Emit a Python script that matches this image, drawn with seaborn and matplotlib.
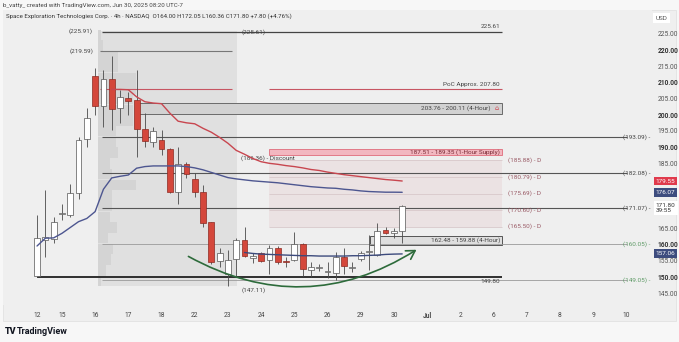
import numpy as np
import pandas as pd
import seaborn as sns
import matplotlib.pyplot as plt
from matplotlib.patches import Rectangle

# 4h candles (index 0 = first bar of Jun 12)
opens = [150.2, 161.5, 161.6, 169.3, 169.0, 175.9, 192.4, 212.0, 202.7, 210.9,
         202.0, 205.2, 204.5, 195.5, 191.7, 192.2, 189.3, 176.2, 184.8, 180.1,
         176.2, 166.8, 154.8, 151.0, 155.4, 161.3, 155.8, 157.2, 155.2, 158.8,
         154.9, 155.2, 160.1, 152.0, 152.8, 151.4, 151.2, 156.2, 152.8, 155.5,
         157.8, 156.7, 164.4, 163.6, 164.0]
highs = [169.0, 176.8, 168.5, 172.4, 178.6, 193.0, 202.0, 214.3, 213.8, 218.1,
         207.6, 207.0, 213.8, 200.4, 196.3, 195.3, 189.8, 190.0, 185.5, 182.1,
         178.3, 166.9, 158.8, 158.2, 161.9, 165.4, 157.4, 157.8, 159.8, 159.5,
         156.0, 163.9, 160.5, 154.6, 154.0, 154.5, 157.7, 158.8, 154.5, 158.1,
         163.0, 166.5, 165.4, 165.0, 172.05]
lows = [150.0, 156.0, 160.4, 167.5, 168.5, 173.9, 190.0, 200.0, 196.3, 195.3,
        197.4, 199.9, 187.0, 190.0, 190.0, 187.6, 175.7, 172.4, 180.4, 174.5,
        165.4, 153.9, 153.1, 147.11, 150.0, 156.0, 154.3, 154.5, 151.0, 154.0,
        153.0, 155.0, 150.2, 150.0, 151.8, 149.7, 149.0, 151.0, 151.5, 155.0,
        152.0, 156.5, 163.3, 162.0, 160.36]
closes = [161.9, 162.3, 167.0, 169.6, 175.9, 192.2, 199.1, 202.7, 210.9, 201.7,
          205.6, 204.3, 195.5, 191.9, 195.0, 189.3, 176.2, 184.8, 181.7, 176.2,
          166.7, 154.6, 157.2, 155.2, 161.3, 156.4, 156.5, 155.0, 158.8, 154.6,
          154.7, 160.1, 152.3, 152.9, 153.0, 151.6, 156.0, 153.3, 153.0, 157.2,
          158.1, 164.1, 163.6, 164.0, 171.8]

day_ticks = [0, 3, 7, 11, 15, 19, 23, 27, 31, 35, 39, 43, 47, 51, 55, 59, 63, 67, 71]
day_labels = ['12', '15', '16', '17', '18', '22', '23', '24', '25', '26', '29', '30',
              'Jul', '2', '6', '7', '8', '9', '10']

# moving/anchored lines
red_start = 9
red_line = [207.8, 207.8, 207.7, 205.5, 204.0, 203.6, 203.4, 200.5, 198.0, 197.5,
            197.2, 195.8, 194.6, 193.0, 191.2, 189.0, 187.8, 186.5, 185.5, 185.0,
            184.7, 184.3, 184.0, 183.6, 183.1, 182.8, 182.3, 181.9, 181.5, 181.2,
            180.9, 180.6, 180.3, 180.0, 179.8, 179.55]
blue_line = [159.5, 161.9, 162.0, 163.4, 165.2, 167.0, 168.0, 170.1, 177.0, 180.5,
             181.0, 181.4, 183.5, 184.0, 184.2, 184.2, 184.2, 184.2, 184.0, 183.6,
             183.0, 182.2, 181.4, 180.6, 180.2, 179.9, 179.6, 179.4, 179.2, 179.0,
             178.7, 178.4, 178.1, 177.8, 177.6, 177.4, 177.3, 177.0, 176.8, 176.5,
             176.3, 176.2, 176.1, 176.1, 176.07]
low_start = 25
low_line = [157.5, 157.2, 157.0, 156.9, 156.8, 156.7, 156.6, 156.5, 156.5, 156.4,
            156.4, 156.4, 156.4, 156.5, 156.5, 156.6, 156.7, 156.9, 157.0, 157.06]

# fixed range volume profile (bin centre, relative volume)
profile_price = [148.7, 152.0, 155.3, 158.6, 161.9, 165.2, 168.5, 171.8, 175.1, 178.4,
                 181.7, 185.0, 188.3, 191.6, 194.9, 198.2, 201.5, 204.8, 208.1, 211.4,
                 214.7, 218.0, 221.3, 224.6]
profile_vol = [0.3, 1.0, 1.6, 1.8, 1.2, 2.3, 1.4, 1.7, 1.7, 4.6,
               1.7, 1.4, 2.4, 2.2, 2.2, 4.2, 4.2, 4.2, 4.6, 4.6,
               2.4, 2.4, 0.6, 0.4]

fib_levels = [185.88, 180.79, 175.69, 170.60, 165.50]
right_levels = [193.09, 182.08, 171.07]
green_levels = [160.05, 149.05]

df = pd.DataFrame({'i': range(len(opens)), 'open': opens, 'high': highs,
                   'low': lows, 'close': closes})
df['up'] = df['close'] >= df['open']

sns.set_theme(style='white')
plt.rcParams['font.family'] = ['Roboto', 'DejaVu Sans']

W, H = 679, 342
fig = plt.figure(figsize=(W / 100, H / 100), dpi=100)
fig.patch.set_facecolor('#f7f7f7')
fig.add_artist(Rectangle((3 / W, 1 - 321 / H), 673 / W, 311 / H, transform=fig.transFigure,
                         facecolor='#efefef', edgecolor='#e2e2e2', lw=0.6, zorder=0))
ax = fig.add_axes([3 / W, 1 - 305 / H, 649 / W, 295 / H])
ax.set_facecolor('#efefef')
for s in ax.spines.values():
    s.set_visible(False)
ax.set_xlim(-4.1, 74.1)
ax.set_ylim(141.3, 232.3)

# zones
ax.add_patch(Rectangle((7.35, 147.11), 16.75, 225.91 - 147.11, facecolor='#e0e0e0', edgecolor='none', zorder=1))
ax.barh(profile_price, profile_vol, height=3.2, left=7.35, color='#d4d4d4',
        edgecolor='none', linewidth=0, zorder=1.5)
ax.add_patch(Rectangle((27.95, 165.5), 28.05, 185.88 - 165.5, facecolor='#ebe2e3', edgecolor='none', zorder=1))
ax.add_patch(Rectangle((12.0, 200.11), 44.0, 3.65, facecolor='#d2d2d2', edgecolor='#6a6a6a', lw=0.7, zorder=2))
ax.add_patch(Rectangle((27.95, 187.51), 28.05, 1.84, facecolor='#f2b7c0', edgecolor='#e27a88', lw=0.7, zorder=2))
ax.add_patch(Rectangle((40.1, 159.88), 15.9, 2.6, facecolor='#dedede', edgecolor='#555555', lw=0.7, zorder=2))

# horizontal levels
ax.hlines(225.61, 7.8, 56.0, color='#444444', lw=0.9, zorder=2)
ax.hlines(219.59, 7.6, 23.5, color='#777777', lw=0.8, zorder=2)
ax.hlines([207.8, 207.8], [7.6, 27.95], [23.5, 56.0], color='#c75562', lw=0.8, zorder=2)
ax.hlines(right_levels, 7.8, 71.1, color='#555555', lw=0.8, zorder=2)
ax.hlines(green_levels, 7.8, 71.1, color='#9a9a9a', lw=0.6, zorder=2)
ax.hlines(fib_levels, 27.95, 56.0, color='#d8c8ca', lw=0.6, zorder=2)
ax.hlines(149.80, 0, 56.0, color='#2f2f2f', lw=1.4, zorder=3)

# candles
ax.vlines(df['i'], df['low'], df['high'], color='#4a4a4a', lw=0.6, zorder=4)
ax.bar(df['i'], (df['close'] - df['open']).abs().clip(lower=0.25),
       bottom=df[['open', 'close']].min(axis=1), width=0.7,
       color=np.where(df['up'], '#ffffff', '#d4473b'),
       edgecolor=np.where(df['up'], '#555555', '#8c2a22'), linewidth=0.5, zorder=5)

# lines
sns.lineplot(x=range(red_start, red_start + len(red_line)), y=red_line, ax=ax,
             color='#c8464f', lw=1.0, zorder=6)
sns.lineplot(x=range(len(blue_line)), y=blue_line, ax=ax, color='#4d5690', lw=1.0, zorder=6)
sns.lineplot(x=range(low_start, low_start + len(low_line)), y=low_line, ax=ax,
             color='#3c4a7c', lw=1.0, zorder=6)

# rounding bottom arrow
ax.annotate('', xy=(46.0, 158.8), xytext=(17.95, 156.7),
            arrowprops=dict(arrowstyle='->,head_length=0.5,head_width=0.3', color='#2d6b3b',
                            lw=1.2, connectionstyle='arc3,rad=0.3'), zorder=7)

fs = 4.6
tc = '#444444'
ax.text(6.75, 225.91, '(225.91)', fontsize=fs, color=tc, ha='right', va='center')
ax.text(6.75, 219.59, '(219.59)', fontsize=fs, color=tc, ha='right', va='center')
ax.text(24.6, 225.61, '(225.61)', fontsize=fs, color=tc, ha='left', va='center')
ax.text(55.8, 226.3, '225.61', fontsize=fs, color=tc, ha='right', va='bottom')
ax.text(55.8, 208.4, 'PoC Approx. 207.80', fontsize=fs, color=tc, ha='right', va='bottom')
ax.text(54.6, 201.93, '203.76 - 200.11 (4-Hour)', fontsize=fs, color=tc, ha='right', va='center', zorder=3)
ax.text(55.6, 201.93, '⌂', fontsize=fs, color='#d0404a', ha='right', va='center', zorder=3)
ax.text(55.8, 188.43, '187.51 - 189.35 (1-Hour Supply)', fontsize=fs, color='#7a2a35', ha='right', va='center', zorder=3)
ax.text(24.6, 186.5, '(186.36) - Discount', fontsize=fs, color=tc, ha='left', va='center')
ax.text(55.8, 161.18, '162.48 - 159.88 (4-Hour)', fontsize=fs, color=tc, ha='right', va='center', zorder=3)
ax.text(55.8, 149.3, '149.80', fontsize=fs, color=tc, ha='right', va='top')
ax.text(24.6, 146.0, '(147.11)', fontsize=fs, color=tc, ha='left', va='center')
for lv in fib_levels:
    ax.text(56.7, lv, f'({lv:.2f}) - D', fontsize=fs, color='#9a5b66', ha='left', va='center')
for lv in right_levels:
    ax.text(73.9, lv, f'({lv:.2f}) -', fontsize=fs, color=tc, ha='right', va='center')
for lv in green_levels:
    ax.text(73.9, lv, f'({lv:.2f}) -', fontsize=fs, color='#5e9a66', ha='right', va='center')

# axes
ax.yaxis.tick_right()
yt = [145, 150, 155, 160, 165, 185, 190, 195, 200, 205, 210, 215, 220, 225]
ax.set_yticks(yt)
ax.set_yticklabels([f'{v:.2f}' for v in yt])
ax.tick_params(axis='y', length=0, pad=4, labelsize=4.8, labelcolor='#555555')
for lab, v in zip(ax.get_yticklabels(), yt):
    if v % 10 == 0:
        lab.set_fontweight('bold')
        lab.set_color('#333333')
ax.set_xticks(day_ticks)
ax.set_xticklabels(day_labels)
ax.tick_params(axis='x', length=0, pad=5, labelsize=4.8, labelcolor='#444444')
ax.get_xticklabels()[day_labels.index('Jul')].set_fontweight('bold')
ax.grid(False)

tr = ax.get_yaxis_transform()
tag_kw = dict(transform=tr, fontsize=4.6, ha='left', va='center', zorder=8)
ax.text(1.006, 179.55, '179.55', color='white', bbox=dict(boxstyle='square,pad=0.3', fc='#e03a4c', ec='none'), **tag_kw)
ax.text(1.006, 176.07, '176.07', color='white', bbox=dict(boxstyle='square,pad=0.3', fc='#3d4c7e', ec='none'), **tag_kw)
ax.text(1.006, 171.2, '171.80\n39:55', color='#333333', linespacing=1.0,
        bbox=dict(boxstyle='square,pad=0.3', fc='white', ec='none'), **tag_kw)
ax.text(1.006, 157.06, '157.06', color='white', bbox=dict(boxstyle='square,pad=0.3', fc='#3d4c7e', ec='none'), **tag_kw)
ax.text(1.006, 229.8, 'USD', color='#555555', bbox=dict(boxstyle='square,pad=0.4', fc='white', ec='none'), **tag_kw)

fig.text(3 / W, 1 - 5 / H, 'b_vatty_ created with TradingView.com, Jun 30, 2025 08:20 UTC-7',
         fontsize=4.4, color='#444444', va='center', ha='left')
fig.text(6 / W, 1 - 16 / H, 'Space Exploration Technologies Corp. · 4h · NASDAQ  O164.00 H172.05 L160.36 C171.80 +7.80 (+4.76%)',
         fontsize=4.4, color='#333333', va='center', ha='left')
fig.text(5 / W, 1 - 331 / H, 'TV', fontsize=6.5, fontweight='heavy', color='#131722', va='center', ha='left')
fig.text(17 / W, 1 - 331 / H, 'TradingView', fontsize=6.5, fontweight='bold', color='#131722', va='center', ha='left')

fig.savefig('out.png', dpi=100, facecolor=fig.get_facecolor())
